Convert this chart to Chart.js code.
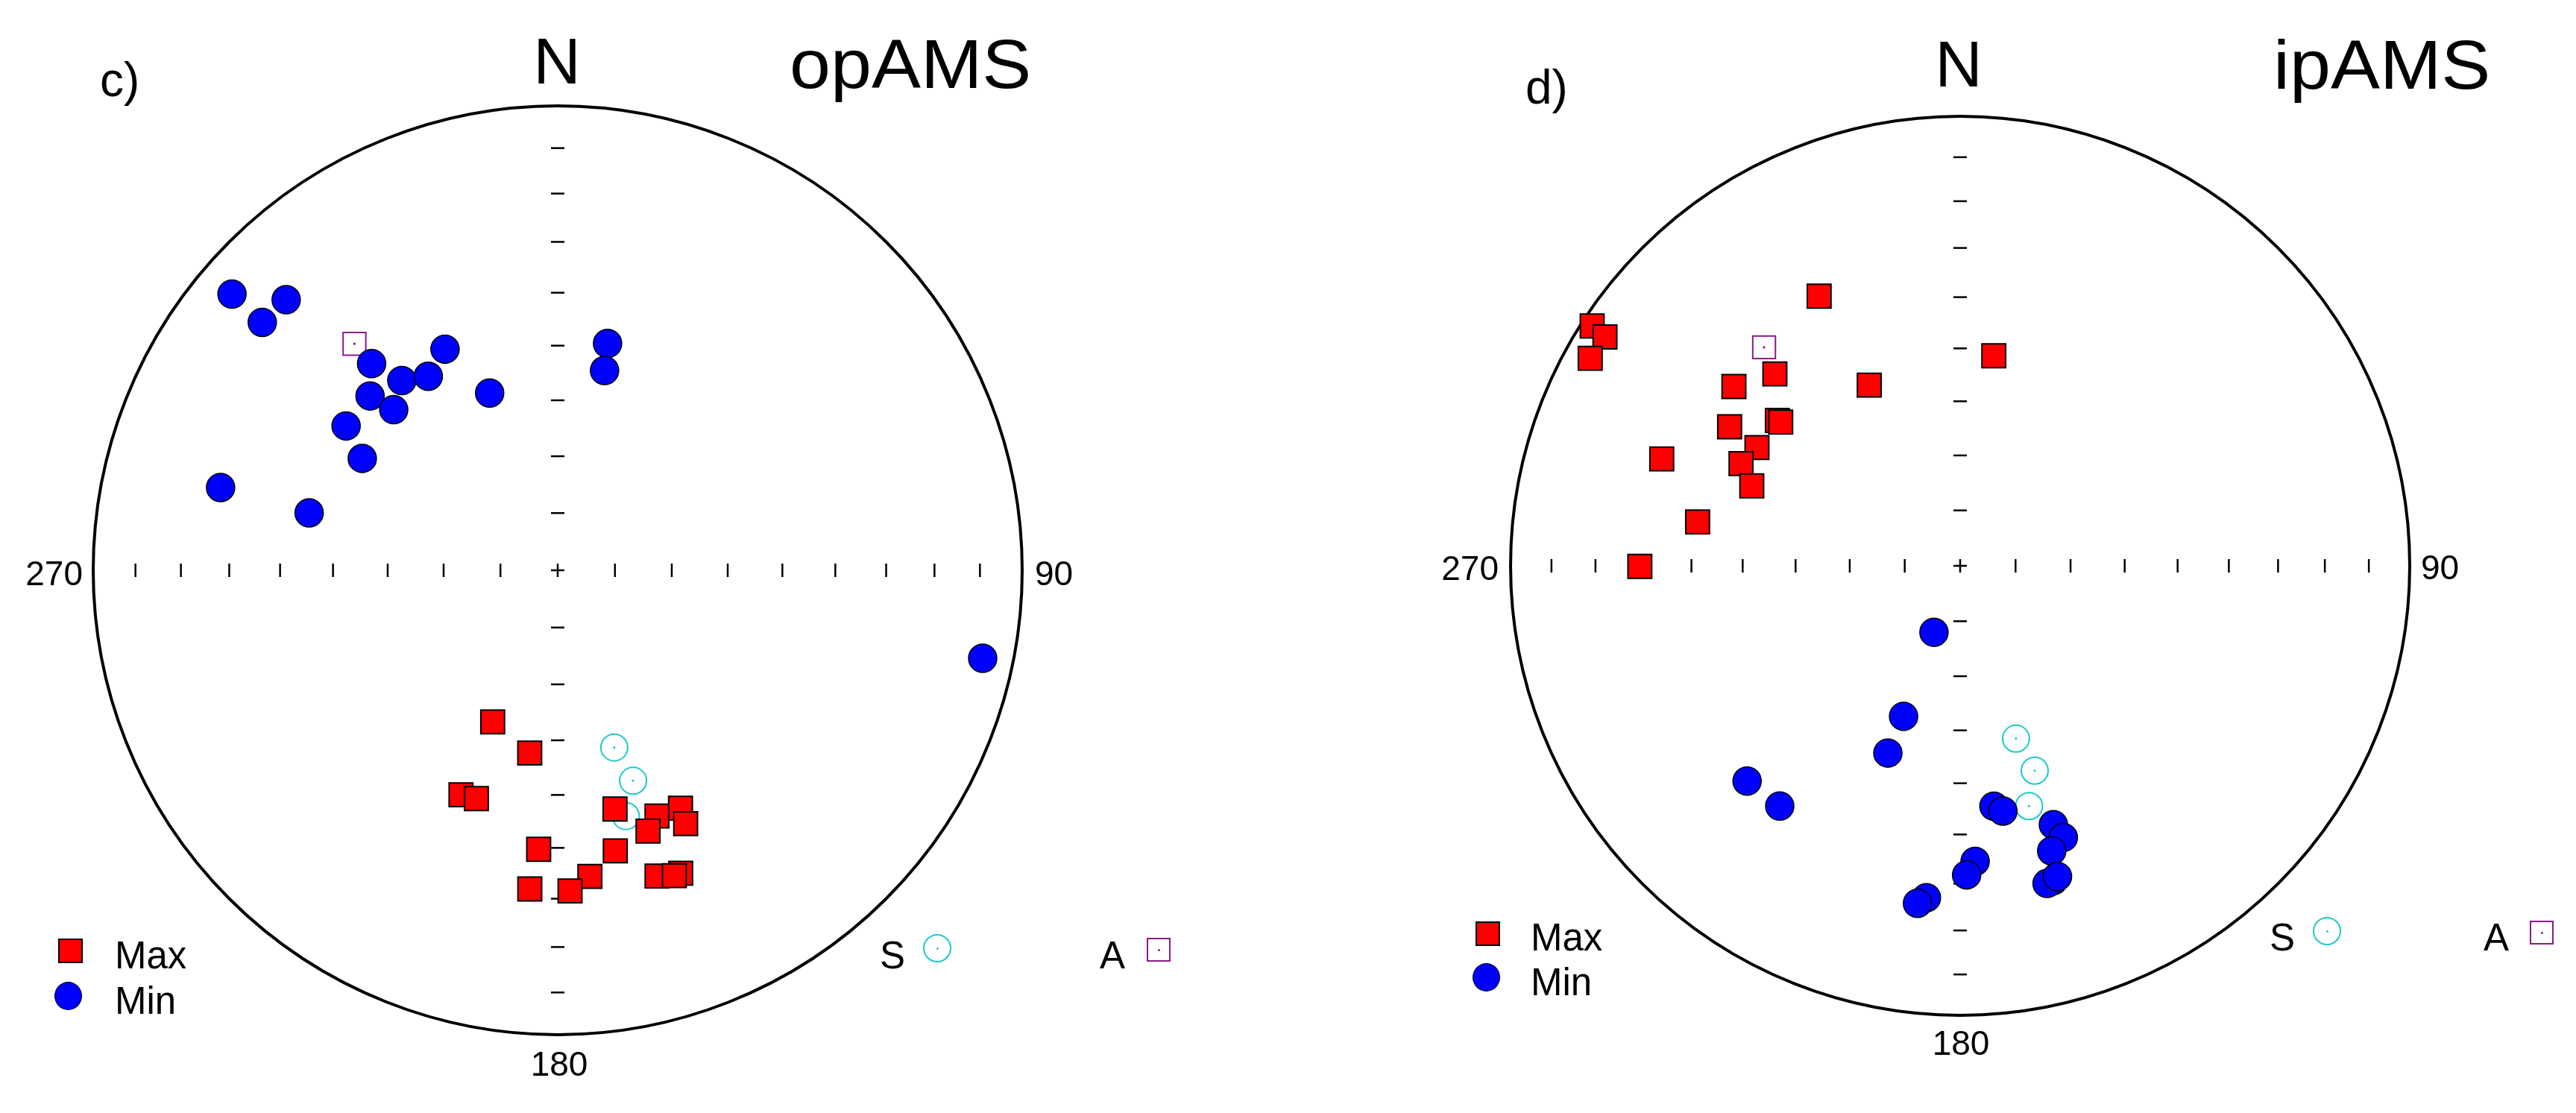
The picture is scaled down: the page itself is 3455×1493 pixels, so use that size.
<!DOCTYPE html>
<html>
<head>
<meta charset="utf-8">
<script src="https://cdn.jsdelivr.net/npm/chart.js@4/dist/chart.umd.min.js"></script>
<style>
  html, body { margin:0; padding:0; background:#fff; }
  body { width:3455px; height:1493px; position:relative; overflow:hidden;
         font-family:"Liberation Sans", Arial, sans-serif; color:#000; }
  canvas { position:absolute; }
  .t { position:absolute; line-height:1; white-space:nowrap; }
  .ttl { transform:scaleX(1.075); transform-origin:left top; }
  .mk { position:absolute; box-sizing:border-box; }
  .dot { position:absolute; left:50%; top:50%; width:3px; height:3px; margin:-1.5px 0 0 -1.5px; border-radius:50%; }
</style>
</head>
<body>
<canvas id="chartC" width="1326" height="1326" style="left:85px; top:102px; width:1326px; height:1326px;"></canvas>
<canvas id="chartD" width="1286" height="1286" style="left:1986px; top:116px; width:1286px; height:1286px;"></canvas>

<!-- panel c -->
<div class="t" style="left:134px; top:75px; font-size:64px;">c)</div>
<div class="t" style="left:647px; top:38px; width:200px; text-align:center; font-size:88px;">N</div>
<div class="t ttl" style="left:1059px; top:40px; font-size:92px;">opAMS</div>
<div class="t" style="left:0px; top:746px; width:111px; text-align:right; font-size:46px;">270</div>
<div class="t" style="left:1388px; top:746px; font-size:46px;">90</div>
<div class="t" style="left:650px; top:1404px; width:200px; text-align:center; font-size:46px;">180</div>
<div class="mk" style="left:77.5px; top:1258.5px; width:33px; height:33px; background:#ff0000; border:2px solid #000;"></div>
<div class="t" style="left:154px; top:1256px; font-size:51px;">Max</div>
<div class="mk" style="left:72.5px; top:1317px; width:37px; height:38px; background:#0000ff; border:1.5px solid #000; border-radius:50%;"></div>
<div class="t" style="left:154px; top:1317px; font-size:51px;">Min</div>
<div class="t" style="left:1180px; top:1256px; font-size:51px;">S</div>
<div class="mk" style="left:1238px; top:1253px; width:38px; height:38px; border:2px solid #1ccaca; border-radius:50%;"><div class="dot" style="background:#1ccaca;"></div></div>
<div class="t" style="left:1475px; top:1256px; font-size:51px;">A</div>
<div class="mk" style="left:1538px; top:1258px; width:32px; height:32px; border:2px solid #8a1a8a;"><div class="dot" style="background:#8a1a8a;"></div></div>

<!-- panel d -->
<div class="t" style="left:2046px; top:85px; font-size:64px;">d)</div>
<div class="t" style="left:2527px; top:42px; width:200px; text-align:center; font-size:88px;">N</div>
<div class="t ttl" style="left:3049px; top:41px; font-size:92px;">ipAMS</div>
<div class="t" style="left:1890px; top:739px; width:120px; text-align:right; font-size:46px;">270</div>
<div class="t" style="left:3247px; top:738px; font-size:46px;">90</div>
<div class="t" style="left:2530px; top:1376px; width:200px; text-align:center; font-size:46px;">180</div>
<div class="mk" style="left:1978.5px; top:1235.5px; width:33px; height:33px; background:#ff0000; border:2px solid #000;"></div>
<div class="t" style="left:2053px; top:1232px; font-size:51px;">Max</div>
<div class="mk" style="left:1974.5px; top:1292px; width:37px; height:38px; background:#0000ff; border:1.5px solid #000; border-radius:50%;"></div>
<div class="t" style="left:2053px; top:1292px; font-size:51px;">Min</div>
<div class="t" style="left:3044px; top:1232px; font-size:51px;">S</div>
<div class="mk" style="left:3102px; top:1230px; width:38px; height:38px; border:2px solid #1ccaca; border-radius:50%;"><div class="dot" style="background:#1ccaca;"></div></div>
<div class="t" style="left:3331px; top:1232px; font-size:51px;">A</div>
<div class="mk" style="left:3393px; top:1235px; width:32px; height:32px; border:2px solid #8a1a8a;"><div class="dot" style="background:#8a1a8a;"></div></div>

<script>
// ---- Data: declination / inclination (degrees), lower-hemisphere equal-area ----
// Panel c) opAMS
const maxDecC = [203.2,188.7,203.3,199.6,166.5,158.0,152.7,160.9,153.2,183.9,168.4,174.0,185.0,177.8,162.0,157.9,159.1];
const maxIncC = [60.9,57.3,46.3,46.7,46.1,42.4,41.9,40.3,38.8,39.6,38.3,34.1,31.7,31.5,31.4,30.3,30.3];
const minDecC = [310.3,314.9,310.0,333.0,318.0,320.6,326.3,312.9,314.4,339.0,304.3,299.8,283.8,283.0,12.4,13.2,101.7];
const minIncC = [8.9,18.6,18.1,45.6,39.9,46.1,48.4,44.1,49.1,56.4,44.1,49.9,26.2,44.3,48.6,53.6,7.3];
const sDecC = [162.3,160.3,164.5];
const sIncC = [57.1,50.2,44.3];
const aDecC = [318.1];
const aIncC = [34.8];

// Panel d) ipAMS
const maxDecD = [332.4,303.1,302.8,299.3,9.1,316.0,308.4,333.3,308.5,308.7,301.1,300.2,289.7,295.0,291.0,279.5,269.9];
const maxIncD = [32.8,2.6,6.7,6.3,50.9,40.4,36.0,52.9,46.9,47.6,39.9,46.6,30.2,45.3,48.9,40.5,29.5];
const minDecD = [201.5,200.6,201.1,224.7,216.9,172.0,170.1,160.2,159.2,162.2,177.1,178.8,163.5,164.7,162.6,185.8,187.2];
const minIncD = [77.1,60.7,53.2,33.1,33.6,45.1,43.9,38.7,35.6,33.8,34.5,31.8,27.8,27.6,28.4,26.7,25.3];
const sDecD = [162.1,160.0,164.0];
const sIncD = [56.8,49.9,43.7];
const aDecD = [318.1];
const aIncD = [35.0];

// Inclination ticks along the N-S and E-W axes
const tickIncs = [10,20,30,40,50,60,70,80];

// ---- Projection (Schmidt equal-area, unit primitive circle) ----
const D2R = Math.PI/180;
function eaRadius(inc){ return Math.SQRT2 * Math.sin((90 - Math.abs(inc)) * D2R / 2); }
function project(decs, incs){
  return decs.map((d,i)=>{ const r = eaRadius(incs[i]); return { x: r*Math.sin(d*D2R), y: r*Math.cos(d*D2R) }; });
}

const RED = '#ff0000', BLUE = '#0000ff', CYAN = '#1ccaca', PURPLE = '#8a1a8a';

const stereoFrame = {
  id: 'stereoFrame',
  beforeDatasetsDraw(chart){
    const { ctx, scales:{ x, y } } = chart;
    const cx = x.getPixelForValue(0), cy = y.getPixelForValue(0);
    const rx = x.getPixelForValue(1) - cx, ry = cy - y.getPixelForValue(1);
    ctx.save();
    ctx.strokeStyle = '#000';
    ctx.lineWidth = 4;
    ctx.beginPath(); ctx.ellipse(cx, cy, rx, ry, 0, 0, Math.PI*2); ctx.stroke();
    ctx.lineWidth = 2.5;
    const h = 9;
    tickIncs.forEach(inc => {
      const r = eaRadius(inc);
      [1,-1].forEach(s => {
        const px = x.getPixelForValue(s*r);
        ctx.beginPath(); ctx.moveTo(px, cy - h); ctx.lineTo(px, cy + h); ctx.stroke();
        const py = y.getPixelForValue(s*r);
        ctx.beginPath(); ctx.moveTo(cx - h, py); ctx.lineTo(cx + h, py); ctx.stroke();
      });
    });
    ctx.beginPath();
    ctx.moveTo(cx - h, cy); ctx.lineTo(cx + h, cy);
    ctx.moveTo(cx, cy - h); ctx.lineTo(cx, cy + h);
    ctx.stroke();
    ctx.restore();
  }
};

function makeNet(id, maxD, maxI, minD, minI, sD, sI, aD, aI){
  const sPts = project(sD, sI), aPts = project(aD, aI);
  new Chart(document.getElementById(id), {
    type: 'scatter',
    data: { datasets: [
      { label:'Min', data: project(minD, minI), pointStyle:'circle', pointRadius:19, pointHoverRadius:19,
        backgroundColor: BLUE, borderColor:'#000', borderWidth:1.5, order:1, clip:false },
      { label:'Max', data: project(maxD, maxI), pointStyle:'rect', pointRadius:22.5, pointHoverRadius:22.5,
        backgroundColor: RED, borderColor:'#000', borderWidth:2, order:2, clip:false },
      { label:'S', data: sPts, pointStyle:'circle', pointRadius:18, pointHoverRadius:18,
        backgroundColor:'rgba(0,0,0,0)', borderColor: CYAN, borderWidth:2, order:4, clip:false },
      { label:'S centre', data: sPts, pointStyle:'circle', pointRadius:1.6, pointHoverRadius:1.6,
        backgroundColor: CYAN, borderColor: CYAN, borderWidth:0, order:3, clip:false },
      { label:'A', data: aPts, pointStyle:'rect', pointRadius:21.5, pointHoverRadius:21.5,
        backgroundColor:'rgba(0,0,0,0)', borderColor: PURPLE, borderWidth:2, order:6, clip:false },
      { label:'A centre', data: aPts, pointStyle:'circle', pointRadius:1.6, pointHoverRadius:1.6,
        backgroundColor: PURPLE, borderColor: PURPLE, borderWidth:0, order:5, clip:false }
    ]},
    options: {
      responsive:false, animation:false, events:[],
      layout:{ padding:40 },
      plugins:{ legend:{ display:false }, tooltip:{ enabled:false } },
      scales:{
        x:{ type:'linear', min:-1, max:1, display:false },
        y:{ type:'linear', min:-1, max:1, display:false }
      }
    },
    plugins:[ stereoFrame ]
  });
}

makeNet('chartC', maxDecC, maxIncC, minDecC, minIncC, sDecC, sIncC, aDecC, aIncC);
makeNet('chartD', maxDecD, maxIncD, minDecD, minIncD, sDecD, sIncD, aDecD, aIncD);
</script>
</body>
</html>
